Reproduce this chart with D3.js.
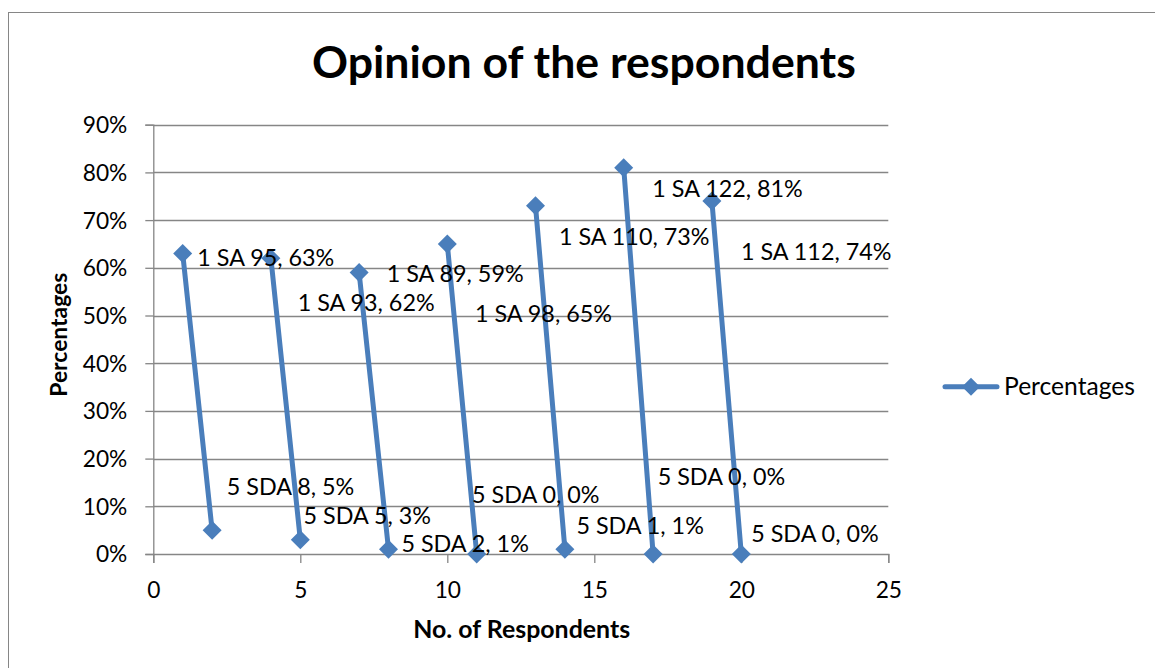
<!DOCTYPE html>
<html>
<head>
<meta charset="utf-8">
<script src="https://cdn.jsdelivr.net/npm/d3@7"></script>
<style>
  html, body { margin: 0; padding: 0; background: #ffffff; }
  svg { display: block; }
  text { font-family: Lato, "Open Sans", sans-serif; fill: #000; }
</style>
</head>
<body>
<svg id="chart" width="1155" height="668"></svg>
<script>
// ---- data ----
const xValues = [1, 2, 3, 4, 5, 6, 7, 8, 9, 10, 11, 12, 13, 14, 15, 16, 17, 18, 19, 20];
const percentages = [63, 5, null, 62, 3, null, 59, 1, null, 65, 0, null, 73, 1, null, 81, 0, null, 74, 0];
const pointNames = ["1 SA 95", "5 SDA 8", null, "1 SA 93", "5 SDA 5", null, "1 SA 89", "5 SDA 2", null,
                    "1 SA 98", "5 SDA 0", null, "1 SA 110", "5 SDA 1", null, "1 SA 122", "5 SDA 0", null,
                    "1 SA 112", "5 SDA 0"];
const xTicks = [0, 5, 10, 15, 20, 25];
const yTicks = [0, 10, 20, 30, 40, 50, 60, 70, 80, 90];
const seriesName = "Percentages";
const titleText = "Opinion of the respondents";
const xTitle = "No. of Respondents";
const yTitle = "Percentages";

// ---- layout (label offsets from the point: left edge / baseline) ----
const labelOffsets = [[14.6, 12.5], [14.7, -35.5], null, [26.8, 52.7], [3.3, -15.4], null, [27.6, 9.1], [12.9, 2.6], null,
                      [27.7, 77.7], [-4.7, -51.1], null, [23.5, 39.2], [11.5, -14.9], null, [28.6, 29.1], [4.6, -69], null,
                      [29.1, 59], [9.9, -12]];

const blue = "#4A7EBB";
const grid = "#868686";

const svg = d3.select("#chart");

// fit a font size so a sample string reaches a measured width
function fitSize(sample, weight, target) {
  const t = svg.append("text").attr("font-size", 100).attr("font-weight", weight).text(sample);
  const w = t.node().getComputedTextLength();
  t.remove();
  return 100 * target / w;
}
const fsLabel = fitSize("1 SA 95, 63%", 400, 137);
const fsTick = fitSize("90%", 400, 44.6);
const fsLegend = fitSize("Percentages", 400, 131);
const fsXTitle = fitSize(xTitle, 700, 217);
const fsYTitle = fitSize(yTitle, 700, 124);
const fsTitle = fitSize(titleText, 700, 544);

// chart border
svg.append("rect")
  .attr("x", 8.5).attr("y", 12.5).attr("width", 1200).attr("height", 700)
  .attr("fill", "none").attr("stroke", grid).attr("stroke-width", 1);

const x = d3.scaleLinear().domain([0, 25]).range([153.3, 888.3]);
const y = d3.scaleLinear().domain([0, 90]).range([554, 124.7]);

// gridlines
svg.append("g")
  .selectAll("line").data(yTicks.filter(d => d > 0)).join("line")
  .attr("x1", x(0)).attr("x2", x(25))
  .attr("y1", d => Math.round(y(d)) + 0.5).attr("y2", d => Math.round(y(d)) + 0.5)
  .attr("stroke", grid).attr("stroke-width", 1.3);

// y axis
const yAxis = d3.axisLeft(y).tickValues(yTicks).tickSize(8).tickPadding(18).tickFormat(d => d + "%");
const gy = svg.append("g").attr("transform", `translate(${x(0)},0)`).call(yAxis);
gy.select(".domain").attr("stroke", grid).attr("stroke-width", 1.3);
gy.selectAll(".tick line").attr("stroke", grid).attr("stroke-width", 1.3);
gy.selectAll(".tick text")
  .attr("font-size", fsTick).attr("font-family", "Lato, sans-serif").attr("fill", "#000")
  .attr("dy", "0.35em").attr("x", 127.3 - x(0));

// x axis
const xAxis = d3.axisBottom(x).tickValues(xTicks).tickSize(9).tickPadding(8).tickFormat(d3.format("d"));
const gx = svg.append("g").attr("transform", `translate(0,${y(0)})`).call(xAxis);
gx.select(".domain").attr("stroke", grid).attr("stroke-width", 1.3);
gx.selectAll(".tick line").attr("stroke", grid).attr("stroke-width", 1.3);
gx.selectAll(".tick text")
  .attr("font-size", fsTick).attr("font-family", "Lato, sans-serif").attr("fill", "#000")
  .attr("dy", null).attr("y", 598 - y(0));

// data
const pts = xValues.map((v, i) => ({ x: v, p: percentages[i], name: pointNames[i], off: labelOffsets[i] }));

const line = d3.line().defined(d => d.p != null).x(d => x(d.x)).y(d => y(d.p));
svg.append("path").datum(pts).attr("d", line)
  .attr("fill", "none").attr("stroke", blue).attr("stroke-width", 5)
  .attr("stroke-linejoin", "round").attr("stroke-linecap", "round");

const diamond = (cx, cy, r) => `M${cx},${cy - r}L${cx + r},${cy}L${cx},${cy + r}L${cx - r},${cy}Z`;
const valid = pts.filter(d => d.p != null);
svg.append("g").selectAll("path").data(valid).join("path")
  .attr("d", d => diamond(x(d.x), y(d.p), 9.5))
  .attr("fill", blue);

svg.append("g").selectAll("text").data(valid).join("text")
  .attr("x", d => x(d.x) + d.off[0])
  .attr("y", d => y(d.p) + d.off[1])
  .attr("font-size", fsLabel)
  .text(d => `${d.name}, ${d.p}%`);

// title
svg.append("text").attr("x", 583.9).attr("y", 78).attr("text-anchor", "middle")
  .attr("font-size", fsTitle).attr("font-weight", 700).text(titleText);

// axis titles
svg.append("text").attr("x", 521.7).attr("y", 638).attr("text-anchor", "middle")
  .attr("font-size", fsXTitle).attr("font-weight", 700).text(xTitle);
svg.append("text").attr("transform", "translate(67,334.7) rotate(-90)").attr("text-anchor", "middle")
  .attr("font-size", fsYTitle).attr("font-weight", 700).text(yTitle);

// legend
const lg = svg.append("g");
lg.append("line").attr("x1", 945).attr("x2", 997).attr("y1", 386.7).attr("y2", 386.7)
  .attr("stroke", blue).attr("stroke-width", 5).attr("stroke-linecap", "round");
lg.append("path").attr("d", diamond(971, 386.7, 9)).attr("fill", blue);
lg.append("text").attr("x", 1004).attr("y", 395).attr("font-size", fsLegend).text(seriesName);
</script>
</body>
</html>
